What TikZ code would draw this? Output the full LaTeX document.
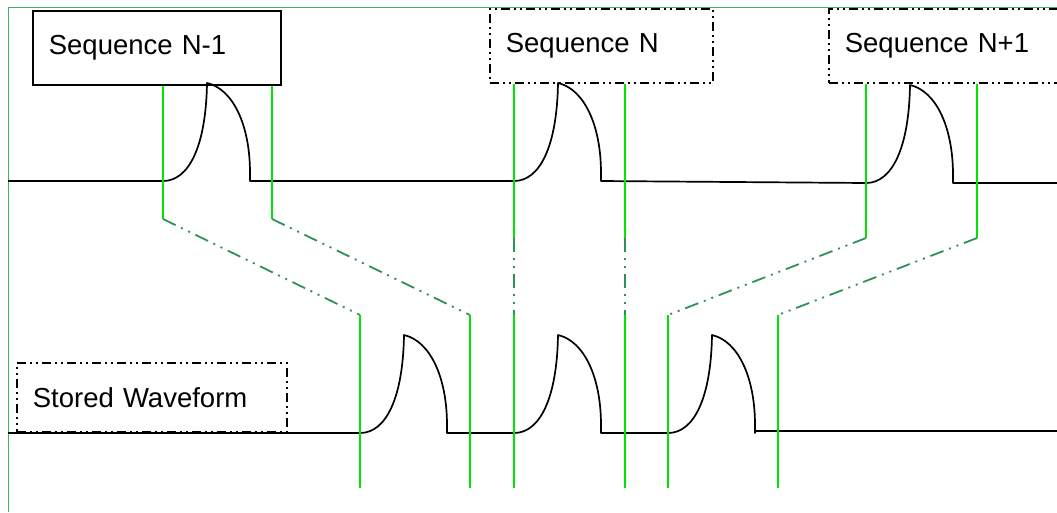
\documentclass[tikz,border=0pt]{standalone}
\usepackage{fontspec}
\setmainfont{Liberation Sans}
\usetikzlibrary{positioning, calc}
\definecolor{markgreen}{RGB}{0,230,0}
\definecolor{linkgreen}{RGB}{46,145,90}
\definecolor{framegreen}{RGB}{60,179,113}
\tikzset{
    seqbox/.style={rectangle, draw, line width=1.7pt, anchor=north west, inner xsep=16pt, align=left, font=\fontsize{27.5}{33}\selectfont},
    dashdotdot/.style={dash pattern=on 9pt off 4pt on 2pt off 4pt on 2pt off 4pt},
    frame/.style={framegreen, line width=1pt},
    wave/.style={line width=1.7pt, line join=round},
    pulse/.style={insert path={.. controls +(26,0) and +(-1,63) .. ++(44,-98) .. controls +(26,6) and +(0,-48) .. ++(43,90) -- ++(0,8)}},
    marker/.style={markgreen, line width=1.8pt},
    link/.style={linkgreen, line width=1.8pt, dash pattern=on 14pt off 6pt on 2pt off 6pt on 2pt off 6pt}
}

\begin{document}
\begin{tikzpicture}[x=1pt, y=-1pt]
    \useasboundingbox (0,0) rectangle (1057,512);
    \clip (0,0) rectangle (1057,512);
    \draw[frame] (8,512) -- (8,7) -- (1057,7);

    \node (seqprev) [seqbox, text width=216pt, minimum height=74pt] at (32,10) {Sequence N-1};
    \node (seqcur) [seqbox, dashdotdot, text width=191pt, minimum height=74pt] at (489,8) {Sequence N};
    \node (seqnext) [seqbox, dashdotdot, text width=208pt, minimum height=74pt] at (828,8) {Sequence N+1};
    \node (stored) [seqbox, dashdotdot, text width=238pt, minimum height=69pt] at (16,362) {Stored Waveform};

    % received and stored waveforms
    \draw[wave] (8,181) -- (163,181) [pulse] -- (514,181) [pulse] -- (866,183) [pulse] -- (1057,183);
    \draw[wave] (8,433) -- (360,433) [pulse] -- (514,433) [pulse] -- (668,433) [pulse] -- ++(0,-2) -- (1057,431);

    % markers mapped onto the stored waveform
    \coordinate (floor) at (0,488);
    \foreach \trk/\seq/\xt/\yt/\xb in {1/seqprev/163/219/360, 2/seqprev/272/219/470,
        3/seqcur/514/238/514, 4/seqcur/625/238/625, 5/seqnext/866/238/668, 6/seqnext/977/238/778} {
        \coordinate (top\trk) at (\xt,\yt);
        \coordinate (bot\trk) at (\xb,315);
        \draw[marker] (\seq.south -| top\trk) -- (top\trk);
        \draw[link] (top\trk) -- (bot\trk);
        \draw[marker] (bot\trk) -- (bot\trk |- floor);
    }
\end{tikzpicture}
\end{document}
